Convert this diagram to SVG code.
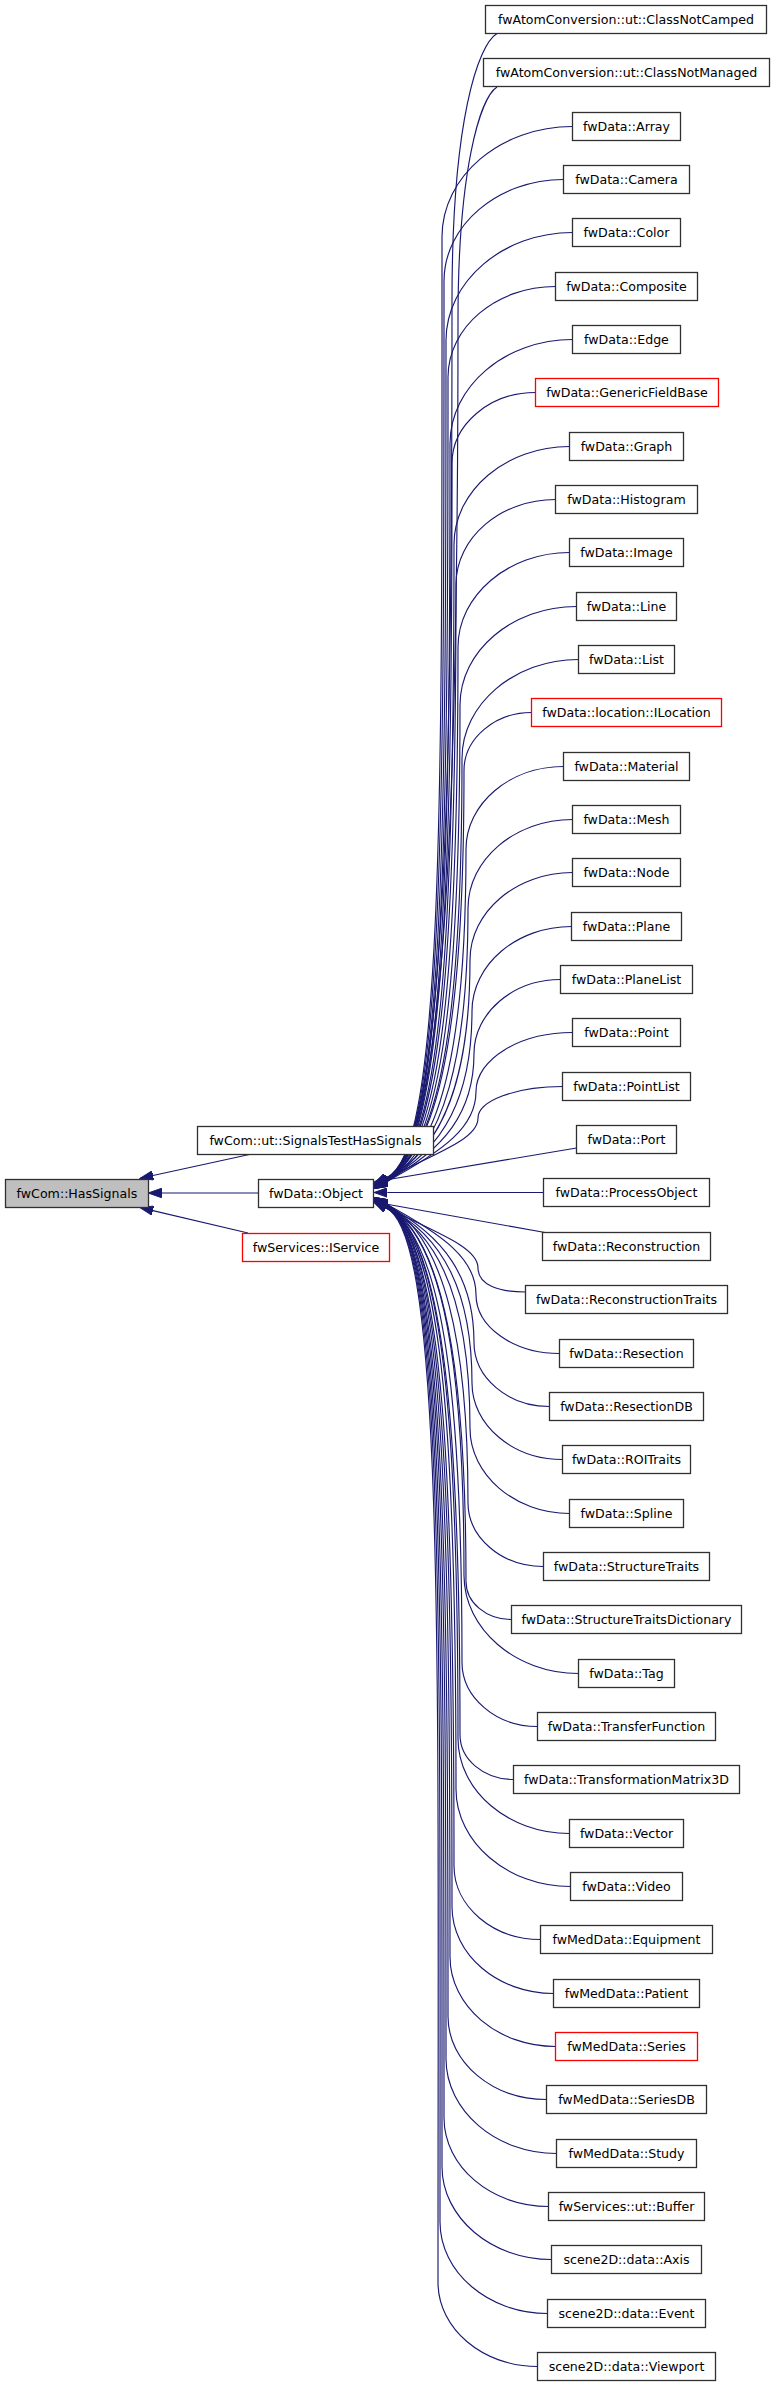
<svg xmlns="http://www.w3.org/2000/svg" width="776" height="2387" viewBox="0 0 776 2387">
<style>
.n rect{fill:#fff;stroke:#303030;stroke-width:1.3}
.r rect{fill:#fff;stroke:#ff0000;stroke-width:1.3}
.g rect{fill:#bfbfbf;stroke:#303030;stroke-width:1.3}
text{font-family:"DejaVu Sans","Liberation Sans",sans-serif;font-size:12.6px;fill:#000;text-anchor:middle}
#edges path{fill:none;stroke:#191970;stroke-width:1.15;marker-end:url(#ah)}
</style>
<defs>
<marker id="ah" markerUnits="userSpaceOnUse" markerWidth="14" markerHeight="10" refX="0" refY="4.7" orient="auto" viewBox="0 0 14 9.4">
<path d="M0,0 L13.3,4.7 L0,9.4 z" fill="#191970" stroke="#191970" stroke-width="1"/>
</marker>
</defs>
<rect width="776" height="2387" fill="#fff"/>
<g id="edges">
<path d="M251.7,1154 L153,1175.5"/>
<path d="M258.5,1193 L161.5,1193"/>
<path d="M248,1233 L152.9,1210.6"/>
<path d="M497,33.5 C478,45 452,120 452,300 C452,800 445,1150 386,1178.3"/>
<path d="M497,87 C480,98 458,170 458,320 C458,820 445,1150 385.9,1179.6"/>
<path d="M572.5,126.5 C500.7,126.5 442,176.1 442,237 C442,784.8 445,1150 385.8,1180.9"/>
<path d="M563.5,179.5 C497.9,179.5 444,225.3 444,281.2 C444,802.5 445,1150 385.7,1182.2"/>
<path d="M572.5,232.5 C503,232.5 446,281.4 446,340.6 C446,826.2 445,1150 386,1178.3"/>
<path d="M555.5,286.5 C496.1,286.5 448,327.2 448,377.2 C448,840.9 445,1150 385.9,1179.6"/>
<path d="M572.5,339.5 C505.2,339.5 450,386.4 450,443.8 C450,867.5 445,1150 385.8,1180.9"/>
<path d="M535.5,392.5 C489.3,392.5 452,424.7 452,463.5 C452,875.4 445,1150 385.7,1182.2"/>
<path d="M569.5,446.5 C506.1,446.5 454,490.4 454,544.5 C454,907.8 445,1150 386,1178.3"/>
<path d="M555.5,499.5 C500.9,499.5 456,537.7 456,584.3 C456,923.7 445,1150 385.9,1179.6"/>
<path d="M569.5,552.5 C508,552.5 458,595.4 458,647.3 C458,948.9 445,1150 385.8,1180.9"/>
<path d="M576.5,606.5 C512.4,606.5 460,650.8 460,705.2 C460,972.1 445,1150 385.7,1182.2"/>
<path d="M578.5,659.5 C514.3,659.5 462,704.1 462,758.4 C462,993.4 445,1150 386,1178.3"/>
<path d="M531.5,712.5 C494.5,712.5 464,738.8 464,770.4 C464,998.2 445,1150 385.9,1179.6"/>
<path d="M563.5,766.5 C509.9,766.5 466,803.6 466,849.2 C466,1029.7 445,1150 385.8,1180.9"/>
<path d="M572.5,819.5 C515,819.5 468,859.5 468,908.3 C468,1053.3 445,1150 385.7,1182.2"/>
<path d="M572.5,872.5 C516.1,872.5 470,912.1 470,959.9 C470,1074 445,1150 386,1178.3"/>
<path d="M571.5,926.5 C516.9,926.5 472,964.4 472,1011 C472,1094.4 445,1150 385.9,1179.6"/>
<path d="M560.5,979.5 C513.1,979.5 474,1012.9 474,1053.5 C474,1111.4 445,1150 385.8,1180.9"/>
<path d="M572.5,1032.5 C519.5,1032.5 476,1059.3 476,1091.5 C476,1126.6 445,1150 385.7,1182.2"/>
<path d="M562.5,1086.5 C516,1086.5 478,1100.7 478,1118.2 C478,1137.3 445,1150 386,1178.3"/>
<path d="M576.5,1148 L387.1,1179.8"/>
<path d="M543.5,1192.5 L387.3,1192.5"/>
<path d="M545,1232.5 L387.1,1204.3"/>
<path d="M525.5,1292 C499.5,1292 478,1285.4 478,1267.9 C478,1248.8 445,1236 386,1207.7"/>
<path d="M559.5,1353.5 C513.3,1353.5 476,1326.7 476,1294.5 C476,1259.4 445,1236 385.7,1203.8"/>
<path d="M549.5,1406.5 C507.7,1406.5 474,1377.6 474,1342.5 C474,1278.6 445,1236 385.8,1205.1"/>
<path d="M562.5,1459.5 C512.7,1459.5 472,1425.1 472,1382.9 C472,1294.8 445,1236 385.9,1206.4"/>
<path d="M569.5,1513.5 C514.9,1513.5 470,1474.9 470,1428.3 C470,1312.9 445,1236 386,1207.7"/>
<path d="M543.5,1566.5 C501.7,1566.5 468,1537.7 468,1502.6 C468,1342.6 445,1236 385.7,1203.8"/>
<path d="M511.5,1619.5 C486.2,1619.5 466,1602.5 466,1581.4 C466,1374.2 445,1236 385.8,1205.1"/>
<path d="M578.5,1673.5 C515.7,1673.5 464,1629 464,1575.3 C464,1371.7 445,1236 385.9,1206.4"/>
<path d="M537.5,1726.5 C496,1726.5 462,1697.5 462,1662.2 C462,1406.5 445,1236 386,1207.7"/>
<path d="M513.5,1779.5 C483.8,1779.5 460,1759.4 460,1734.7 C460,1435.5 445,1236 385.7,1203.8"/>
<path d="M569.5,1833.5 C508,1833.5 458,1790.6 458,1738.6 C458,1437 445,1236 385.8,1205.1"/>
<path d="M570.5,1886.5 C507.6,1886.5 456,1842.5 456,1788.9 C456,1457.2 445,1236 385.9,1206.4"/>
<path d="M540.5,1939.5 C493,1939.5 454,1906.5 454,1866 C454,1488 445,1236 386,1207.7"/>
<path d="M553.5,1993.5 C497.7,1993.5 452,1954.3 452,1906.8 C452,1504.3 445,1236 385.7,1203.8"/>
<path d="M555.5,2046.5 C497.5,2046.5 450,2006 450,1956.7 C450,1524.3 445,1236 385.8,1205.1"/>
<path d="M546.5,2099.5 C492.1,2099.5 448,2062.3 448,2016.5 C448,1548.2 445,1236 385.9,1206.4"/>
<path d="M556.5,2153.5 C495.9,2153.5 446,2110.7 446,2058.8 C446,1565.1 445,1236 386,1207.7"/>
<path d="M548.5,2206.5 C491,2206.5 444,2166.5 444,2117.7 C444,1588.7 445,1236 385.7,1203.8"/>
<path d="M551.5,2259.5 C491.5,2259.5 442,2217.8 442,2166.4 C442,1608.2 445,1236 385.8,1205.1"/>
<path d="M547.5,2313.5 C488.1,2313.5 440,2272.1 440,2222.1 C440,1630.4 445,1236 385.9,1206.4"/>
<path d="M537.5,2366.5 C482.5,2366.5 438,2328.6 438,2282.3 C438,1654.5 445,1236 386,1207.7"/>
</g>
<g id="hassignals" class="g"><rect x="5.5" y="1179.5" width="143" height="28"/><text x="77" y="1198">fwCom::HasSignals</text></g>
<g id="signalstest" class="n"><rect x="197.5" y="1126.5" width="236" height="28"/><text x="315.5" y="1145">fwCom::ut::SignalsTestHasSignals</text></g>
<g id="object" class="n"><rect x="258.5" y="1179.5" width="115" height="28"/><text x="316" y="1198">fwData::Object</text></g>
<g id="iservice" class="r"><rect x="242.5" y="1233.5" width="147" height="28"/><text x="316" y="1252">fwServices::IService</text></g>
<g id="c0" class="n" transform="translate(0,5.5)"><rect x="485.5" y="0" width="281" height="28"/><text x="626" y="18.5">fwAtomConversion::ut::ClassNotCamped</text></g>
<g id="c1" class="n" transform="translate(0,58.5)"><rect x="483.5" y="0" width="286" height="28"/><text x="626.5" y="18.5">fwAtomConversion::ut::ClassNotManaged</text></g>
<g id="c2" class="n" transform="translate(0,112.5)"><rect x="572.5" y="0" width="108" height="28"/><text x="626.5" y="18.5">fwData::Array</text></g>
<g id="c3" class="n" transform="translate(0,165.5)"><rect x="563.5" y="0" width="126" height="28"/><text x="626.5" y="18.5">fwData::Camera</text></g>
<g id="c4" class="n" transform="translate(0,218.5)"><rect x="572.5" y="0" width="108" height="28"/><text x="626.5" y="18.5">fwData::Color</text></g>
<g id="c5" class="n" transform="translate(0,272.5)"><rect x="555.5" y="0" width="142" height="28"/><text x="626.5" y="18.5">fwData::Composite</text></g>
<g id="c6" class="n" transform="translate(0,325.5)"><rect x="572.5" y="0" width="108" height="28"/><text x="626.5" y="18.5">fwData::Edge</text></g>
<g id="c7" class="r" transform="translate(0,378.5)"><rect x="535.5" y="0" width="183" height="28"/><text x="627" y="18.5">fwData::GenericFieldBase</text></g>
<g id="c8" class="n" transform="translate(0,432.5)"><rect x="569.5" y="0" width="114" height="28"/><text x="626.5" y="18.5">fwData::Graph</text></g>
<g id="c9" class="n" transform="translate(0,485.5)"><rect x="555.5" y="0" width="142" height="28"/><text x="626.5" y="18.5">fwData::Histogram</text></g>
<g id="c10" class="n" transform="translate(0,538.5)"><rect x="569.5" y="0" width="114" height="28"/><text x="626.5" y="18.5">fwData::Image</text></g>
<g id="c11" class="n" transform="translate(0,592.5)"><rect x="576.5" y="0" width="100" height="28"/><text x="626.5" y="18.5">fwData::Line</text></g>
<g id="c12" class="n" transform="translate(0,645.5)"><rect x="578.5" y="0" width="96" height="28"/><text x="626.5" y="18.5">fwData::List</text></g>
<g id="c13" class="r" transform="translate(0,698.5)"><rect x="531.5" y="0" width="190" height="28"/><text x="626.5" y="18.5">fwData::location::ILocation</text></g>
<g id="c14" class="n" transform="translate(0,752.5)"><rect x="563.5" y="0" width="126" height="28"/><text x="626.5" y="18.5">fwData::Material</text></g>
<g id="c15" class="n" transform="translate(0,805.5)"><rect x="572.5" y="0" width="108" height="28"/><text x="626.5" y="18.5">fwData::Mesh</text></g>
<g id="c16" class="n" transform="translate(0,858.5)"><rect x="572.5" y="0" width="108" height="28"/><text x="626.5" y="18.5">fwData::Node</text></g>
<g id="c17" class="n" transform="translate(0,912.5)"><rect x="571.5" y="0" width="110" height="28"/><text x="626.5" y="18.5">fwData::Plane</text></g>
<g id="c18" class="n" transform="translate(0,965.5)"><rect x="560.5" y="0" width="132" height="28"/><text x="626.5" y="18.5">fwData::PlaneList</text></g>
<g id="c19" class="n" transform="translate(0,1018.5)"><rect x="572.5" y="0" width="108" height="28"/><text x="626.5" y="18.5">fwData::Point</text></g>
<g id="c20" class="n" transform="translate(0,1072.5)"><rect x="562.5" y="0" width="128" height="28"/><text x="626.5" y="18.5">fwData::PointList</text></g>
<g id="c21" class="n" transform="translate(0,1125.5)"><rect x="576.5" y="0" width="100" height="28"/><text x="626.5" y="18.5">fwData::Port</text></g>
<g id="c22" class="n" transform="translate(0,1178.5)"><rect x="543.5" y="0" width="166" height="28"/><text x="626.5" y="18.5">fwData::ProcessObject</text></g>
<g id="c23" class="n" transform="translate(0,1232.5)"><rect x="542.5" y="0" width="168" height="28"/><text x="626.5" y="18.5">fwData::Reconstruction</text></g>
<g id="c24" class="n" transform="translate(0,1285.5)"><rect x="525.5" y="0" width="202" height="28"/><text x="626.5" y="18.5">fwData::ReconstructionTraits</text></g>
<g id="c25" class="n" transform="translate(0,1339.5)"><rect x="559.5" y="0" width="134" height="28"/><text x="626.5" y="18.5">fwData::Resection</text></g>
<g id="c26" class="n" transform="translate(0,1392.5)"><rect x="549.5" y="0" width="154" height="28"/><text x="626.5" y="18.5">fwData::ResectionDB</text></g>
<g id="c27" class="n" transform="translate(0,1445.5)"><rect x="562.5" y="0" width="128" height="28"/><text x="626.5" y="18.5">fwData::ROITraits</text></g>
<g id="c28" class="n" transform="translate(0,1499.5)"><rect x="569.5" y="0" width="114" height="28"/><text x="626.5" y="18.5">fwData::Spline</text></g>
<g id="c29" class="n" transform="translate(0,1552.5)"><rect x="543.5" y="0" width="166" height="28"/><text x="626.5" y="18.5">fwData::StructureTraits</text></g>
<g id="c30" class="n" transform="translate(0,1605.5)"><rect x="511.5" y="0" width="230" height="28"/><text x="626.5" y="18.5">fwData::StructureTraitsDictionary</text></g>
<g id="c31" class="n" transform="translate(0,1659.5)"><rect x="578.5" y="0" width="96" height="28"/><text x="626.5" y="18.5">fwData::Tag</text></g>
<g id="c32" class="n" transform="translate(0,1712.5)"><rect x="537.5" y="0" width="178" height="28"/><text x="626.5" y="18.5">fwData::TransferFunction</text></g>
<g id="c33" class="n" transform="translate(0,1765.5)"><rect x="513.5" y="0" width="226" height="28"/><text x="626.5" y="18.5">fwData::TransformationMatrix3D</text></g>
<g id="c34" class="n" transform="translate(0,1819.5)"><rect x="569.5" y="0" width="114" height="28"/><text x="626.5" y="18.5">fwData::Vector</text></g>
<g id="c35" class="n" transform="translate(0,1872.5)"><rect x="570.5" y="0" width="112" height="28"/><text x="626.5" y="18.5">fwData::Video</text></g>
<g id="c36" class="n" transform="translate(0,1925.5)"><rect x="540.5" y="0" width="172" height="28"/><text x="626.5" y="18.5">fwMedData::Equipment</text></g>
<g id="c37" class="n" transform="translate(0,1979.5)"><rect x="553.5" y="0" width="146" height="28"/><text x="626.5" y="18.5">fwMedData::Patient</text></g>
<g id="c38" class="r" transform="translate(0,2032.5)"><rect x="555.5" y="0" width="142" height="28"/><text x="626.5" y="18.5">fwMedData::Series</text></g>
<g id="c39" class="n" transform="translate(0,2085.5)"><rect x="546.5" y="0" width="160" height="28"/><text x="626.5" y="18.5">fwMedData::SeriesDB</text></g>
<g id="c40" class="n" transform="translate(0,2139.5)"><rect x="556.5" y="0" width="140" height="28"/><text x="626.5" y="18.5">fwMedData::Study</text></g>
<g id="c41" class="n" transform="translate(0,2192.5)"><rect x="548.5" y="0" width="156" height="28"/><text x="626.5" y="18.5">fwServices::ut::Buffer</text></g>
<g id="c42" class="n" transform="translate(0,2245.5)"><rect x="551.5" y="0" width="150" height="28"/><text x="626.5" y="18.5">scene2D::data::Axis</text></g>
<g id="c43" class="n" transform="translate(0,2299.5)"><rect x="547.5" y="0" width="158" height="28"/><text x="626.5" y="18.5">scene2D::data::Event</text></g>
<g id="c44" class="n" transform="translate(0,2352.5)"><rect x="537.5" y="0" width="178" height="28"/><text x="626.5" y="18.5">scene2D::data::Viewport</text></g>
</svg>
